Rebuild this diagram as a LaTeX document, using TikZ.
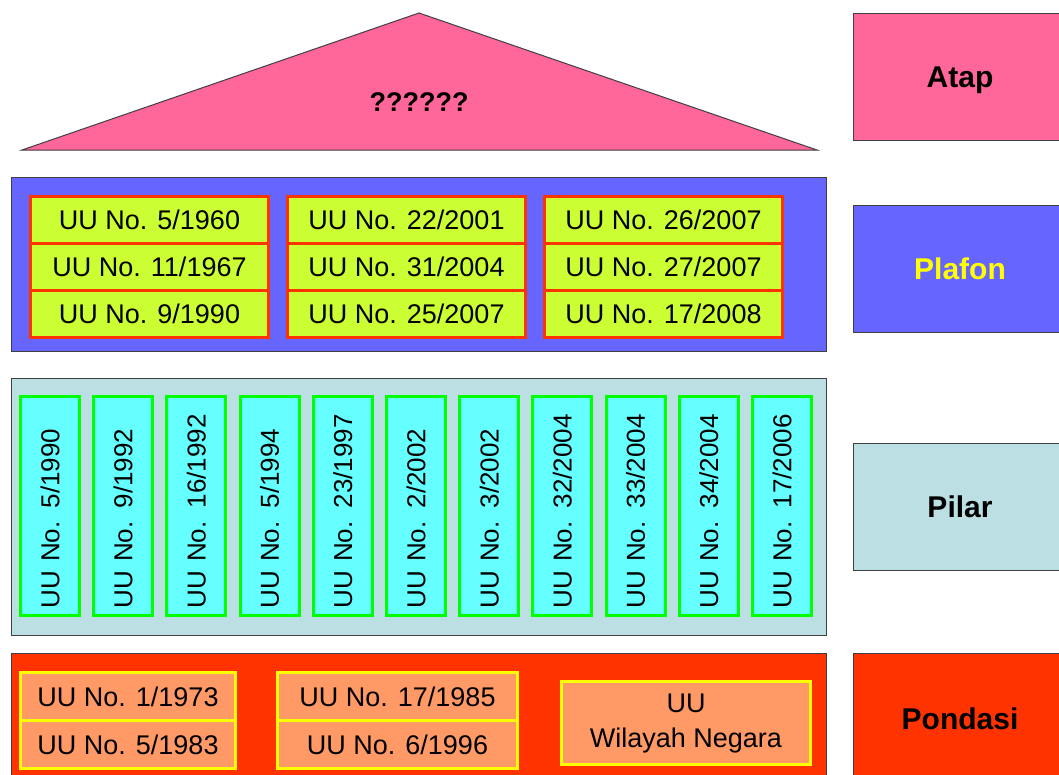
\documentclass[tikz,border=0pt]{standalone}
\usepackage{fontspec}
\setmainfont{Liberation Sans}
\usetikzlibrary{positioning}
\definecolor{atapbg}{HTML}{FF6699}
\definecolor{plafbg}{HTML}{6666FF}
\definecolor{pilarbg}{HTML}{BBDFE3}
\definecolor{pondbg}{HTML}{FF3300}
\definecolor{limecell}{HTML}{CCFF33}
\definecolor{cyancell}{HTML}{66FFFF}
\definecolor{peachcell}{HTML}{FF9966}
\definecolor{redbd}{HTML}{FF3300}
\definecolor{greenbd}{HTML}{00FF00}
\definecolor{yellowbd}{HTML}{FFFF00}
\definecolor{panelbd}{HTML}{404040}
\newcommand{\uufont}{\fontsize{27}{31}\selectfont}
\newcommand{\tagfont}{\fontsize{30}{34}\selectfont\bfseries}
\tikzset{
  panel/.style={draw=panelbd,line width=1pt,anchor=north west,inner sep=0pt},
  tagbox/.style={panel,minimum width=213pt,minimum height=127pt,font=\tagfont},
  plafcell/.style={draw=redbd,fill=limecell,line width=3pt,anchor=north west,
                   minimum width=238pt,minimum height=47pt,inner sep=0pt,font=\uufont},
  pilcell/.style={draw=greenbd,fill=cyancell,line width=3pt,rotate=90,
                  minimum width=219pt,minimum height=59pt,inner sep=0pt,
                  text width=204pt,align=left,font=\fontsize{26}{30}\selectfont},
  pondcell/.style={draw=yellowbd,fill=peachcell,line width=3pt,anchor=north west,
                   minimum height=48pt,inner sep=0pt,font=\uufont},
}

\begin{document}
\begin{tikzpicture}[x=1pt,y=-1pt]
  \clip (0,0) rectangle (1059,774);
  \fill[white] (0,0) rectangle (1059,774);
  % atap
  \filldraw[fill=atapbg,draw=panelbd,line width=1pt]
    (22,150) -- (419,13) -- (817,150) -- cycle;
  \node[font=\fontsize{27}{31}\selectfont\bfseries] (atapq) at (419,102) {??????};
  % panels
  \node[panel,fill=plafbg,minimum width=815pt,minimum height=174pt] (plafon) at (11,177) {};
  \node[panel,fill=pilarbg,minimum width=815pt,minimum height=257pt] (pilar) at (11,378) {};
  \node[panel,fill=pondbg,minimum width=815pt,minimum height=135pt] (pondasi) at (11,653) {};
  % plafon cells
  \foreach \i/\x/\y/\t in {1/29/195/{5/1960},2/29/242/{11/1967},3/29/289/{9/1990},
                           4/286/195/{22/2001},5/286/242/{31/2004},6/286/289/{25/2007},
                           7/543/195/{26/2007},8/543/242/{27/2007},9/543/289/{17/2008}}{
    \node[plafcell] (pf\i) at (\x,\y) {UU No. \t};
  }
  % pilar cells
  \foreach \t [count=\i from 0] in {{5/1990},{9/1992},{16/1992},{5/1994},{23/1997},
                                    {2/2002},{3/2002},{32/2004},{33/2004},{34/2004},{17/2006}}{
    \node[pilcell] (pl\i) at ({50+\i*73.2},506) {UU No. \t};
  }
  % pondasi cells
  \node[pondcell,minimum width=215pt] (pd1) at (19,671) {UU No. 1/1973};
  \node[pondcell,minimum width=215pt] (pd2) at (19,719) {UU No. 5/1983};
  \node[pondcell,minimum width=240pt] (pd3) at (276,671) {UU No. 17/1985};
  \node[pondcell,minimum width=240pt] (pd4) at (276,719) {UU No. 6/1996};
  \node[pondcell,minimum width=249pt,minimum height=83pt,align=center,
        font=\fontsize{27}{35}\selectfont] (pd5) at (560,680) {UU\\Wilayah Negara};
  % tags
  \node[tagbox,fill=atapbg,text depth=0pt] (tatap) at (853,13) {Atap};
  \node[tagbox,fill=plafbg,text=yellowbd] (tplafon) at (853,205) {Plafon};
  \node[tagbox,fill=pilarbg] (tpilar) at (853,443) {Pilar};
  \node[tagbox,fill=pondbg,minimum height=130pt] (tpondasi) at (853,653) {Pondasi};
\end{tikzpicture}
\end{document}
